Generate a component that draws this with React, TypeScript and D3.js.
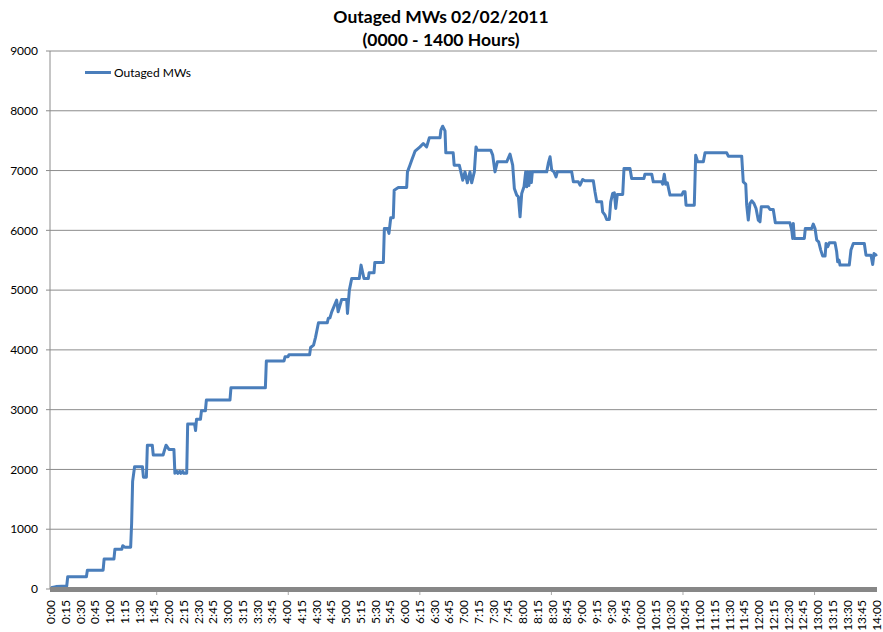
import * as d3 from 'd3';

// minutes since 0:00 and outaged MW
const times = [
  0, 5, 16, 17, 36, 37, 53, 54, 64, 65, 72, 73, 75, 81, 82, 83, 85, 93, 94, 97,
  98, 103, 104, 114, 115, 117, 120, 125, 126, 128, 129, 131, 132, 134, 135, 138, 139, 146, 147, 148,
  152, 153, 157, 158, 182, 183, 218, 219, 237, 238, 241, 242, 263, 264, 267, 269, 272, 281, 282, 283.7,
  285.5, 290.5, 292, 295.6, 300.7, 301.5, 303.4, 305.8, 313.5, 315.3, 318.3, 322.7, 323.5, 328.5, 329.3, 338, 339, 342.4, 343.7, 345.5,
  348.1, 349, 353.2, 361.7, 362.5, 365, 366.8, 370.2, 375.3, 378.6, 382, 384.7, 395.6, 396.5, 398.3, 400.7, 401.5, 409, 410, 415.2,
  416, 418.7, 421, 423.4, 426.1, 427.8, 430.5, 432.2, 433.5, 447.2, 449.2, 451.5, 453.9, 463.4, 466.8, 469.5, 471.2, 473.6, 475.3, 477,
  478.7, 481, 482.7, 483.8, 485, 486, 487.5, 488.5, 489.5, 490.5, 504.1, 505.7, 507.5, 509.2, 511.5, 513.6, 514.9, 529.5, 531.2, 536.3,
  538, 540.7, 543, 551.5, 553.2, 555, 560, 561, 563.4, 565.1, 567.8, 569.2, 571.2, 572.9, 574.3, 575.9, 581.4, 582.7, 588.8, 590.5,
  603, 604, 610.9, 612.5, 621, 622, 623.7, 625.1, 626.8, 629.5, 641.4, 643, 644.8, 645.8, 654.2, 655.6, 657.7, 663.4, 665.1, 687.2,
  688.8, 702.4, 704, 706.5, 707.5, 709.1, 710.8, 712.6, 714.9, 717, 719.3, 721, 722.3, 729.4, 731.2, 734.5, 736.6, 751.5, 753.3, 754.3,
  754.9, 755.9, 766.1, 767.1, 773.6, 775.2, 777, 778.7, 780.7, 782.8, 784.8, 787.2, 788.2, 789.9, 791.5, 797.3, 799, 800, 801.4, 802.4,
  811.8, 813.5, 815.9, 827.1, 828.8, 833.9, 835.6, 837, 838.7, 840,
];
const mw = [
  20, 40, 50, 205, 205, 315, 315, 500, 500, 665, 665, 725, 700, 700, 1100, 1800, 2045, 2045, 1870, 1870,
  2405, 2405, 2240, 2240, 2300, 2405, 2335, 2335, 1935, 1970, 1935, 1970, 1935, 1970, 1935, 1935, 2760, 2760, 2650, 2840,
  2840, 2980, 2980, 3160, 3160, 3365, 3365, 3815, 3815, 3885, 3885, 3918, 3918, 4040, 4080, 4210, 4455, 4455, 4530, 4537,
  4637, 4833, 4637, 4844, 4844, 4610, 5000, 5195, 5195, 5418, 5195, 5195, 5290, 5290, 5463, 5463, 6032, 6032, 5948, 6210,
  6210, 6672, 6717, 6717, 6978, 7090, 7174, 7324, 7396, 7452, 7396, 7547, 7547, 7676, 7742, 7664, 7296, 7296, 7090, 7090,
  7035, 6839, 6978, 6795, 6978, 6795, 6978, 7396, 7341, 7341, 7258, 6978, 7146, 7146, 7274, 7090, 6700, 6589, 6561, 6226,
  6617, 6728, 6978, 6728, 6978, 6750, 6978, 6800, 6978, 6978, 6978, 7118, 7230, 7007, 6978, 6895, 6978, 6978, 6811, 6811,
  6756, 6851, 6828, 6828, 6644, 6477, 6477, 6310, 6254, 6182, 6182, 6477, 6617, 6628, 6366, 6600, 6600, 7035, 7035, 6867,
  6867, 6940, 6940, 6811, 6811, 6772, 6940, 6772, 6795, 6589, 6589, 6644, 6644, 6421, 6421, 7258, 7146, 7146, 7296, 7296,
  7241, 7241, 6811, 6775, 6421, 6171, 6449, 6494, 6449, 6366, 6171, 6143, 6393, 6393, 6349, 6349, 6126, 6126, 6003, 5864,
  6115, 5864, 5864, 6031, 6031, 6104, 6031, 5836, 5808, 5669, 5569, 5569, 5780, 5725, 5791, 5791, 5641, 5474, 5502, 5418,
  5418, 5669, 5780, 5780, 5585, 5585, 5429, 5613, 5586, 5602,
];

const yTicks = [0, 1000, 2000, 3000, 4000, 5000, 6000, 7000, 8000, 9000];
const xLabelMinutes = d3.range(0, 841, 15);
const xTickMinutes = [107.5, 241.3, 375.1, 508.9, 642.7, 776.5];

const fmtTime = (m: number) => `${Math.floor(m / 60)}:${String(m % 60).padStart(2, '0')}`;

export default function App() {
  const width = 883;
  const height = 632;
  const x = d3.scaleLinear().domain([0, 840]).range([51, 877]);
  const y = d3.scaleLinear().domain([0, 9000]).range([589, 51]);
  const font = 'Lato, "Liberation Sans", sans-serif';

  const points: [number, number][] = times.map((t, i) => [t, mw[i]]);
  const line = d3.line<[number, number]>()
    .x((d) => x(d[0]))
    .y((d) => y(d[1]));

  return (
    <svg width={width} height={height} style={{ position: 'absolute', left: 0, top: 0, background: '#fff' }}>
      {/* title */}
      <text x={441} y={23} textAnchor="middle" fontFamily={font} fontWeight="bold" fontSize={17.5}>
        Outaged MWs 02/02/2011
      </text>
      <text x={441} y={46} textAnchor="middle" fontFamily={font} fontWeight="bold" fontSize={17.5}>
        (0000 - 1400 Hours)
      </text>

      {/* gridlines and y axis */}
      {yTicks.map((v) => (
        <g key={v}>
          <line x1={50} x2={877} y1={y(v)} y2={y(v)} stroke="#8c8c8c" strokeWidth={1} />
          <line x1={46} x2={50} y1={y(v)} y2={y(v)} stroke="#8c8c8c" strokeWidth={1} />
          <text x={38} y={y(v)} dy="0.35em" textAnchor="end" fontFamily={font} fontSize={12} fill="#000">
            {v}
          </text>
        </g>
      ))}
      <line x1={50} x2={50} y1={51} y2={589} stroke="#8c8c8c" strokeWidth={1} />

      {/* legend */}
      <line x1={85} x2={111} y1={72.5} y2={72.5} stroke="#4a7ebb" strokeWidth={3} />
      <text x={114} y={72.5} dy="0.35em" fontFamily={font} fontSize={12} fill="#000">
        Outaged MWs
      </text>

      {/* data */}
      <path d={line(points) || ''} fill="none" stroke="#4a7ebb" strokeWidth={3} strokeLinejoin="round" />

      {/* x axis */}
      <line x1={50} x2={877} y1={589.5} y2={589.5} stroke="#878787" strokeWidth={5} />
      {xTickMinutes.map((m) => (
        <line key={m} x1={x(m)} x2={x(m)} y1={592} y2={595} stroke="#aaa" strokeWidth={1} />
      ))}
      {xLabelMinutes.map((m) => (
        <text
          key={m}
          transform={`translate(${x(m)},600) rotate(-90)`}
          dy="0.35em"
          textAnchor="end"
          fontFamily={font}
          fontSize={12}
          fill="#000"
        >
          {fmtTime(m)}
        </text>
      ))}
    </svg>
  );
}
